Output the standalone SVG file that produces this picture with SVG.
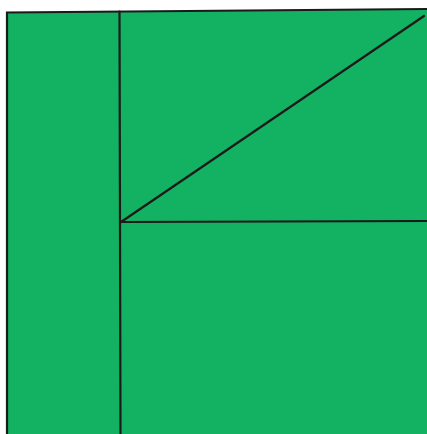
<svg xmlns="http://www.w3.org/2000/svg" width="427" height="434" viewBox="0 0 427 434">
<style>.ln{stroke:#1a1a1a;stroke-width:2.2;fill:none;stroke-linecap:round}</style>
<rect width="427" height="434" fill="#ffffff"/>
<g id="square">
<polygon points="7,12.5 427,9 427,434 7,434" fill="#13b162"/>
</g>
<g id="connectors">
<path class="ln" d="M7,434 L7,12.5 L427,9"/>
<path class="ln" d="M119.5,11.5 L120.5,434"/>
<path class="ln" d="M121,222 L424,16"/>
<path class="ln" d="M121,222 L427,221"/>
</g>
</svg>
